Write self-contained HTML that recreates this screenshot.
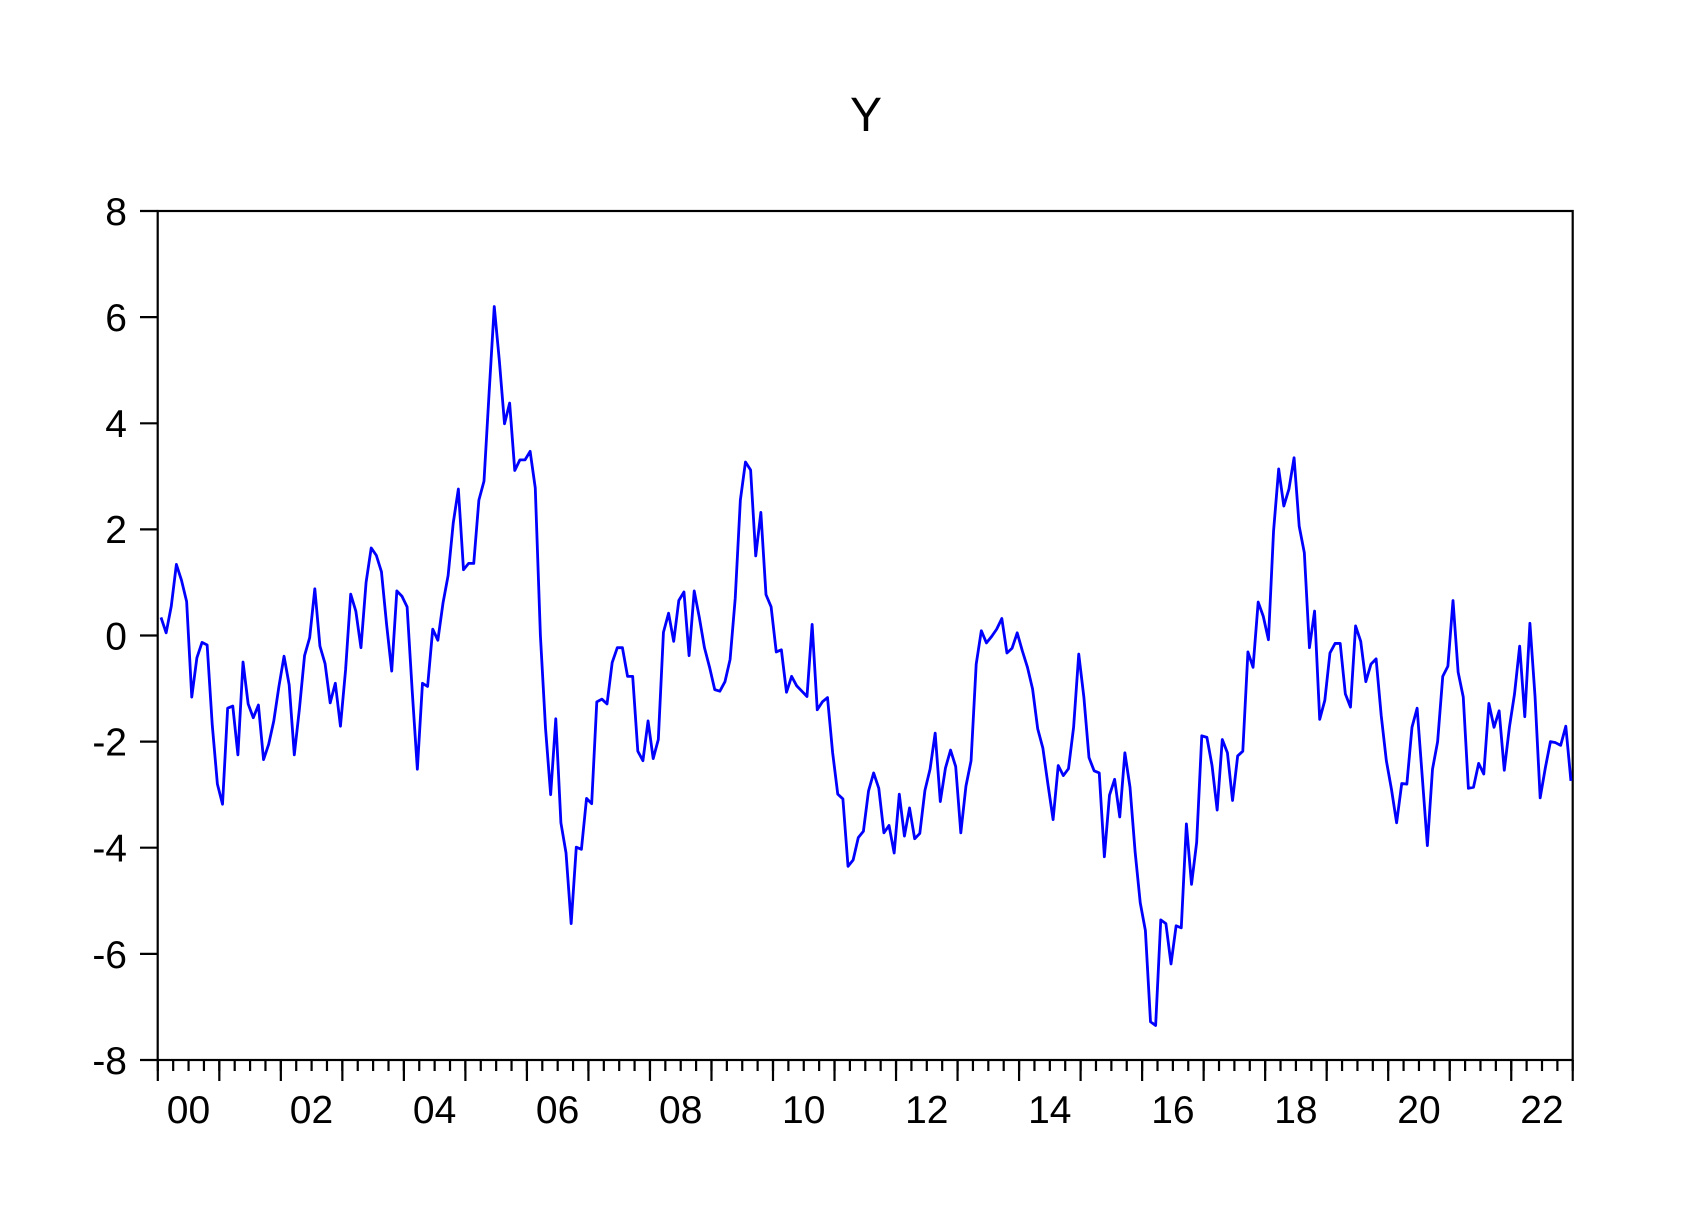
<!DOCTYPE html>
<html>
<head>
<meta charset="utf-8">
<style>
html,body{margin:0;padding:0;background:#fff;}
svg{display:block;}
text{font-family:"Liberation Sans",Arial,sans-serif;fill:#000;}
</style>
</head>
<body>
<svg width="1686" height="1217" viewBox="0 0 1686 1217" xmlns="http://www.w3.org/2000/svg">
<rect x="0" y="0" width="1686" height="1217" fill="#fff"/>
<text x="866" y="131" font-size="48" text-anchor="middle">Y</text>

<!-- frame -->
<rect x="157.7" y="211" width="1415" height="849" fill="none" stroke="#000" stroke-width="2.2"/>

<!-- y ticks -->
<g stroke="#000" stroke-width="2.2">
<line x1="140" y1="211" x2="157.7" y2="211"/>
<line x1="140" y1="317.1" x2="157.7" y2="317.1"/>
<line x1="140" y1="423.3" x2="157.7" y2="423.3"/>
<line x1="140" y1="529.4" x2="157.7" y2="529.4"/>
<line x1="140" y1="635.5" x2="157.7" y2="635.5"/>
<line x1="140" y1="741.6" x2="157.7" y2="741.6"/>
<line x1="140" y1="847.7" x2="157.7" y2="847.7"/>
<line x1="140" y1="953.9" x2="157.7" y2="953.9"/>
<line x1="140" y1="1060" x2="157.7" y2="1060"/>
</g>
<g font-size="39" text-anchor="end">
<text x="127" y="225">8</text>
<text x="127" y="331">6</text>
<text x="127" y="437">4</text>
<text x="127" y="543">2</text>
<text x="127" y="649.5">0</text>
<text x="127" y="755.5">-2</text>
<text x="127" y="861.5">-4</text>
<text x="127" y="968">-6</text>
<text x="127" y="1074">-8</text>
</g>

<!-- x ticks -->
<line x1="156.7" y1="1065.5" x2="1573.8" y2="1065.5" stroke="#000" stroke-width="11" stroke-dasharray="2.2 13.18"/>
<line x1="156.7" y1="1070.5" x2="1573.8" y2="1070.5" stroke="#000" stroke-width="21" stroke-dasharray="2.2 59.32"/>

<g font-size="39" text-anchor="middle">
<text x="188.5" y="1123">00</text>
<text x="311.5" y="1123">02</text>
<text x="434.6" y="1123">04</text>
<text x="557.6" y="1123">06</text>
<text x="680.7" y="1123">08</text>
<text x="803.7" y="1123">10</text>
<text x="926.8" y="1123">12</text>
<text x="1049.8" y="1123">14</text>
<text x="1172.9" y="1123">16</text>
<text x="1295.9" y="1123">18</text>
<text x="1419" y="1123">20</text>
<text x="1542" y="1123">22</text>
</g>

<!-- series -->
<g transform="translate(161 635.5) scale(5.127 -53.06)">
<polyline fill="none" stroke="#0000FF" stroke-width="2.8" vector-effect="non-scaling-stroke" stroke-linejoin="round" points="
0,0.34 1,0.05 2,0.55 3,1.34 4,1.04 5,0.64 6,-1.16 7,-0.42 8,-0.13 9,-0.18
10,-1.69 11,-2.80 12,-3.18 13,-1.37 14,-1.33 15,-2.25 16,-0.50 17,-1.29 18,-1.55 19,-1.31
20,-2.34 21,-2.05 22,-1.61 23,-0.96 24,-0.39 25,-0.93 26,-2.25 27,-1.38 28,-0.38 29,-0.04
30,0.88 31,-0.20 32,-0.53 33,-1.27 34,-0.90 35,-1.71 36,-0.65 37,0.78 38,0.46 39,-0.23
40,1.00 41,1.65 42,1.51 43,1.20 44,0.21 45,-0.67 46,0.84 47,0.74 48,0.54 49,-1.05
50,-2.52 51,-0.90 52,-0.96 53,0.12 54,-0.09 55,0.61 56,1.13 57,2.12 58,2.76 59,1.24
60,1.36 61,1.36 62,2.55 63,2.91 64,4.58 65,6.20 66,5.17 67,3.99 68,4.38 69,3.11
70,3.31 71,3.31 72,3.47 73,2.78 74,0.00 75,-1.75 76,-3.00 77,-1.57 78,-3.53 79,-4.10
80,-5.43 81,-3.99 82,-4.03 83,-3.07 84,-3.17 85,-1.25 86,-1.20 87,-1.29 88,-0.51 89,-0.23
90,-0.23 91,-0.77 92,-0.77 93,-2.18 94,-2.36 95,-1.61 96,-2.32 97,-1.96 98,0.06 99,0.42
100,-0.11 101,0.66 102,0.82 103,-0.38 104,0.84 105,0.34 106,-0.23 107,-0.60 108,-1.02 109,-1.05
110,-0.87 111,-0.45 112,0.70 113,2.55 114,3.27 115,3.12 116,1.50 117,2.32 118,0.77 119,0.54
120,-0.31 121,-0.27 122,-1.07 123,-0.77 124,-0.95 125,-1.05 126,-1.15 127,0.21 128,-1.40 129,-1.25
130,-1.17 131,-2.21 132,-2.99 133,-3.08 134,-4.35 135,-4.23 136,-3.81 137,-3.69 138,-2.93 139,-2.59
140,-2.88 141,-3.72 142,-3.58 143,-4.10 144,-2.99 145,-3.78 146,-3.25 147,-3.83 148,-3.73 149,-2.92
150,-2.52 151,-1.84 152,-3.13 153,-2.50 154,-2.16 155,-2.47 156,-3.72 157,-2.84 158,-2.36 159,-0.54
160,0.09 161,-0.14 162,-0.02 163,0.12 164,0.32 165,-0.33 166,-0.24 167,0.05 168,-0.29 169,-0.60
170,-1.01 171,-1.76 172,-2.12 173,-2.81 174,-3.47 175,-2.45 176,-2.64 177,-2.51 178,-1.73 179,-0.35
180,-1.16 181,-2.30 182,-2.55 183,-2.59 184,-4.17 185,-3.01 186,-2.71 187,-3.42 188,-2.21 189,-2.86
190,-4.08 191,-5.04 192,-5.56 193,-7.28 194,-7.35 195,-5.36 196,-5.43 197,-6.19 198,-5.47 199,-5.51
200,-3.55 201,-4.69 202,-3.90 203,-1.89 204,-1.92 205,-2.45 206,-3.29 207,-1.96 208,-2.21 209,-3.11
210,-2.27 211,-2.18 212,-0.31 213,-0.60 214,0.63 215,0.36 216,-0.08 217,1.97 218,3.14 219,2.44
220,2.76 221,3.35 222,2.06 223,1.56 224,-0.23 225,0.46 226,-1.58 227,-1.22 228,-0.33 229,-0.15
230,-0.15 231,-1.10 232,-1.35 233,0.18 234,-0.11 235,-0.87 236,-0.54 237,-0.44 238,-1.51 239,-2.36
240,-2.90 241,-3.53 242,-2.79 243,-2.80 244,-1.73 245,-1.37 246,-2.66 247,-3.96 248,-2.52 249,-2.00
250,-0.77 251,-0.58 252,0.66 253,-0.69 254,-1.16 255,-2.88 256,-2.86 257,-2.41 258,-2.61 259,-1.28
260,-1.73 261,-1.42 262,-2.54 263,-1.73 264,-1.10 265,-0.20 266,-1.53 267,0.23 268,-1.15 269,-3.06
270,-2.50 271,-2.00 272,-2.02 273,-2.07 274,-1.71 275,-2.74"/>
</g>
</svg>
</body>
</html>
